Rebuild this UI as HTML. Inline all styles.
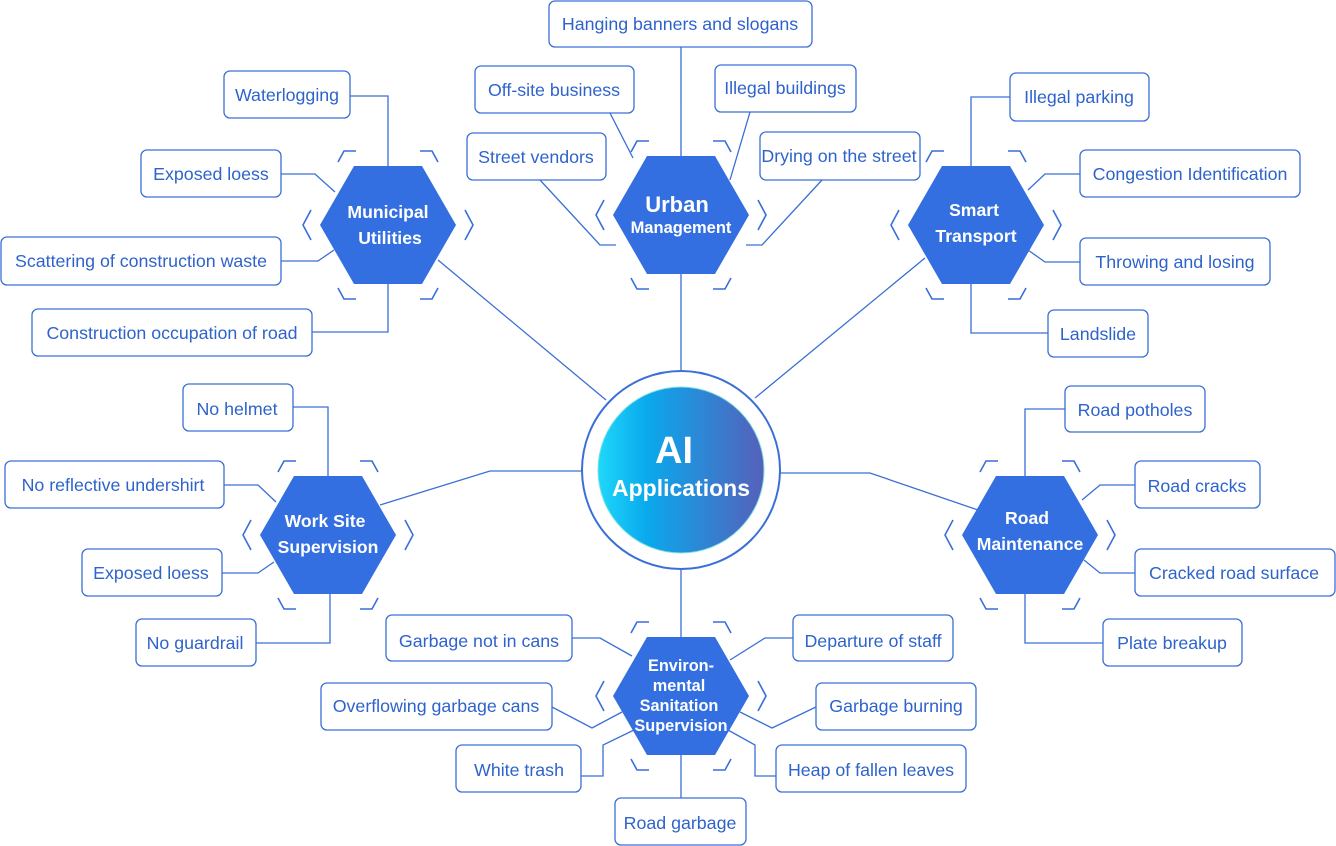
<!DOCTYPE html>
<html><head><meta charset="utf-8"><style>
html,body{margin:0;padding:0;background:#fff;}
svg{display:block;font-family:"Liberation Sans",Arial,sans-serif;}
.b{fill:#fff;stroke:#3a6fd8;stroke-width:1.3;}
.l{fill:none;stroke:#3a6fd8;stroke-width:1.3;}
.t{fill:#2e63cc;font-size:17.8px;text-anchor:middle;}
.h{fill:#336fe0;}
.ht{fill:#fff;font-size:17.6px;font-weight:bold;text-anchor:middle;}
.br{fill:none;stroke:#3a6fd8;stroke-width:1.6;}
</style></head><body>
<svg id="s" width="1336" height="846" viewBox="0 0 1336 846" xmlns="http://www.w3.org/2000/svg">
<defs><linearGradient id="g" x1="0" x2="1" y1="0" y2="0"><stop offset="0" stop-color="#1ed8fb"/><stop offset="0.3" stop-color="#0aa8ec"/><stop offset="1" stop-color="#5660ba"/></linearGradient></defs>
<path class="l" d="M350 96H388V166 M281 174H315L335 192 M281 261H318L334 250 M312 332H388V284 M438 260L606 400"/>
<path class="l" d="M681 47V157 M610 113L633 158 M750 112L730 180 M540 180L600 245H616 M822 180L762 245H746 M681 273V371"/>
<path class="l" d="M1010 97H971V166 M1080 174H1045L1028 190 M1080 262H1045L1028 250 M1048 333H971V284 M925 258L755 398"/>
<path class="l" d="M293 407H328V476 M224 485H258L276 502 M222 573H258L274 562 M256 643H330V594 M380 505L490 471H582"/>
<path class="l" d="M1065 409H1025V476 M1135 485H1100L1082 500 M1135 573H1100L1084 560 M1103 643H1025V594 M780 473H870L978 510"/>
<path class="l" d="M681 569V637 M572 638H600L632 656 M793 638H765L730 660 M552 707L592 728L622 712 M816 707L772 728L740 712 M581 776H603V745L634 730 M776 776H755V745L728 730 M681 755V798"/>
<circle cx="681" cy="470" r="99" fill="#fff" stroke="#3a6fd8" stroke-width="2"/>
<circle cx="681" cy="470" r="83" fill="url(#g)" stroke="#7ee0e0" stroke-width="1"/>
<text x="674" y="463" fill="#fff" font-size="38" font-weight="bold" text-anchor="middle">AI</text>
<text x="681" y="496" fill="#fff" font-size="23" font-weight="bold" text-anchor="middle">Applications</text>
<g id="hex"></g>
<rect class="b" x="549" y="1" width="263" height="46" rx="6"/><text class="t" x="680" y="30">Hanging banners and slogans</text>
<rect class="b" x="475" y="66" width="159" height="47" rx="6"/><text class="t" x="554" y="96">Off-site business</text>
<rect class="b" x="715" y="65" width="141" height="47" rx="6"/><text class="t" x="785" y="94">Illegal buildings</text>
<rect class="b" x="467" y="133" width="139" height="47" rx="6"/><text class="t" x="536" y="163">Street vendors</text>
<rect class="b" x="760" y="132" width="160" height="48" rx="6"/><text class="t" x="839" y="162">Drying on the street</text>
<rect class="b" x="224" y="71" width="126" height="47" rx="6"/><text class="t" x="287" y="101">Waterlogging</text>
<rect class="b" x="141" y="150" width="140" height="47" rx="6"/><text class="t" x="211" y="180">Exposed loess</text>
<rect class="b" x="1" y="237" width="280" height="48" rx="6"/><text class="t" x="141" y="267">Scattering of construction waste</text>
<rect class="b" x="32" y="309" width="280" height="47" rx="6"/><text class="t" x="172" y="339">Construction occupation of road</text>
<rect class="b" x="1010" y="73" width="139" height="48" rx="6"/><text class="t" x="1079" y="103">Illegal parking</text>
<rect class="b" x="1080" y="150" width="220" height="47" rx="6"/><text class="t" x="1190" y="180">Congestion Identification</text>
<rect class="b" x="1080" y="238" width="190" height="47" rx="6"/><text class="t" x="1175" y="268">Throwing and losing</text>
<rect class="b" x="1048" y="310" width="100" height="47" rx="6"/><text class="t" x="1098" y="340">Landslide</text>
<rect class="b" x="183" y="384" width="110" height="47" rx="6"/><text class="t" x="237" y="415">No helmet</text>
<rect class="b" x="5" y="461" width="219" height="47" rx="6"/><text class="t" x="113" y="491">No reflective undershirt</text>
<rect class="b" x="82" y="549" width="140" height="47" rx="6"/><text class="t" x="151" y="579">Exposed loess</text>
<rect class="b" x="136" y="619" width="120" height="47" rx="6"/><text class="t" x="195" y="649">No guardrail</text>
<rect class="b" x="1065" y="386" width="140" height="46" rx="6"/><text class="t" x="1135" y="416">Road potholes</text>
<rect class="b" x="1135" y="461" width="125" height="47" rx="6"/><text class="t" x="1197" y="492">Road cracks</text>
<rect class="b" x="1135" y="549" width="200" height="47" rx="6"/><text class="t" x="1234" y="579">Cracked road surface</text>
<rect class="b" x="1103" y="619" width="139" height="47" rx="6"/><text class="t" x="1172" y="649">Plate breakup</text>
<rect class="b" x="386" y="615" width="186" height="46" rx="6"/><text class="t" x="479" y="647">Garbage not in cans</text>
<rect class="b" x="793" y="615" width="160" height="46" rx="6"/><text class="t" x="873" y="647">Departure of staff</text>
<rect class="b" x="321" y="683" width="231" height="47" rx="6"/><text class="t" x="436" y="712">Overflowing garbage cans</text>
<rect class="b" x="816" y="683" width="160" height="47" rx="6"/><text class="t" x="896" y="712">Garbage burning</text>
<rect class="b" x="456" y="745" width="125" height="47" rx="6"/><text class="t" x="519" y="776">White trash</text>
<rect class="b" x="776" y="745" width="190" height="47" rx="6"/><text class="t" x="871" y="776">Heap of fallen leaves</text>
<rect class="b" x="615" y="798" width="131" height="47" rx="6"/><text class="t" x="680" y="829">Road garbage</text>
<text class="ht" x="388" y="218">Municipal</text><text class="ht" x="390" y="244">Utilities</text>
<text class="ht" x="677" y="212" style="font-size:22px">Urban</text><text class="ht" x="681" y="233" style="font-size:16.5px">Management</text>
<text class="ht" x="974" y="216">Smart</text><text class="ht" x="976" y="242">Transport</text>
<text class="ht" x="325" y="527">Work Site</text><text class="ht" x="328" y="553">Supervision</text>
<text class="ht" x="1027" y="524">Road</text><text class="ht" x="1030" y="550">Maintenance</text>
<text class="ht" x="681" y="671" style="font-size:16.3px">Environ-</text><text class="ht" x="679" y="691" style="font-size:16.3px">mental</text><text class="ht" x="679" y="711" style="font-size:16.3px">Sanitation</text><text class="ht" x="681" y="731" style="font-size:16.3px">Supervision</text>
</svg>
<script>
var hs=[[388,225],[681,215],[976,225],[328,535],[1030,535],[681,696]],o='',g=document.getElementById('hex');
hs.forEach(function(c){var x=c[0],y=c[1];
o+='<polygon class="h" points="'+(x-68)+','+y+' '+(x-34)+','+(y-59)+' '+(x+34)+','+(y-59)+' '+(x+68)+','+y+' '+(x+34)+','+(y+59)+' '+(x-34)+','+(y+59)+'"/>';
o+='<path class="br" d="M'+(x-50)+' '+(y-63)+'L'+(x-44)+' '+(y-74)+'H'+(x-32)+' M'+(x+50)+' '+(y-63)+'L'+(x+44)+' '+(y-74)+'H'+(x+32)+' M'+(x-50)+' '+(y+63)+'L'+(x-44)+' '+(y+74)+'H'+(x-32)+' M'+(x+50)+' '+(y+63)+'L'+(x+44)+' '+(y+74)+'H'+(x+32)+' M'+(x-77)+' '+(y-15)+'L'+(x-85)+' '+y+'L'+(x-77)+' '+(y+15)+' M'+(x+77)+' '+(y-15)+'L'+(x+85)+' '+y+'L'+(x+77)+' '+(y+15)+'"/>';});
g.innerHTML=o;
</script>
</body></html>
